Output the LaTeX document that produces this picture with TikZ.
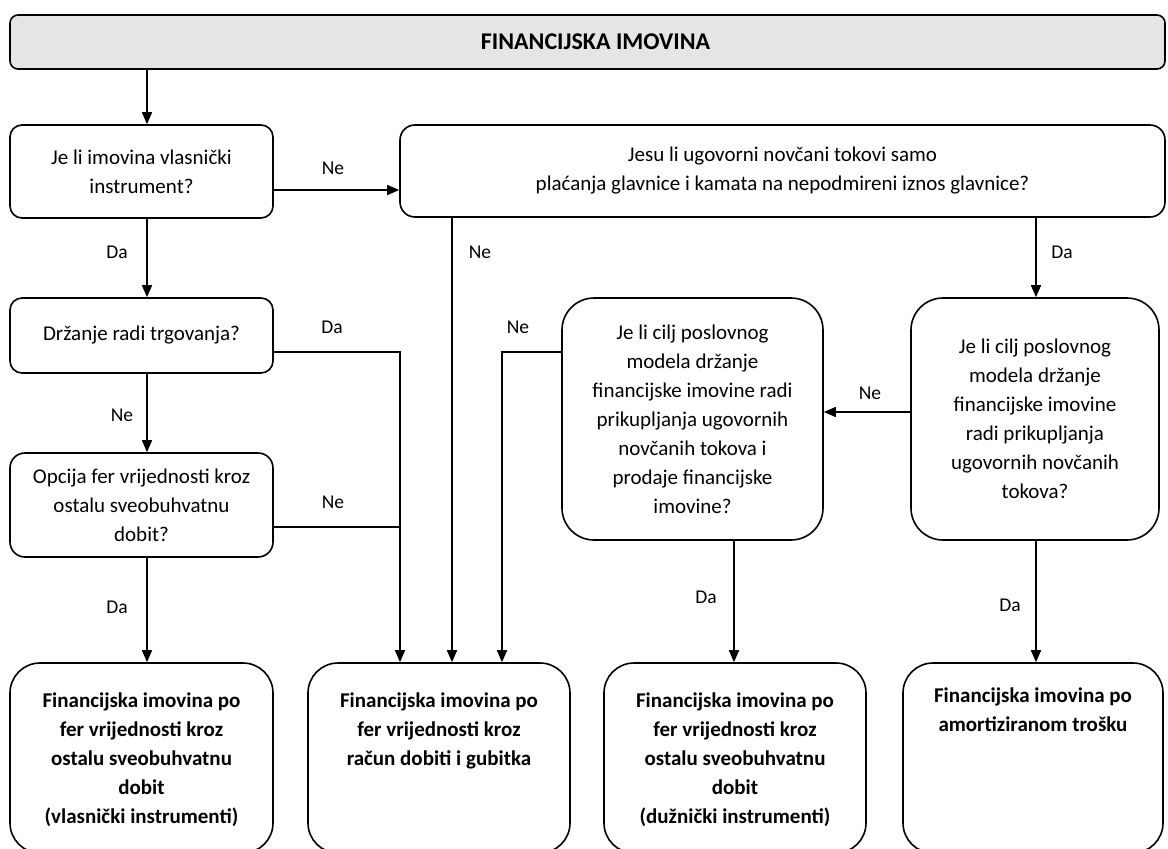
\documentclass[tikz,border=0pt]{standalone}
\usepackage{fontspec}
\setmainfont{Carlito}
\usetikzlibrary{arrows.meta}
\begin{document}
\begin{tikzpicture}[x=1pt,y=-1pt,line width=1.6pt,
  qbox/.style={draw, rounded corners=#1, align=center, inner sep=0pt,
    font=\fontsize{21}{29}\selectfont},
  qbox/.default=12pt,
  ebox/.style={draw, rounded corners=30pt, inner sep=0pt, minimum height=190pt},
  etext/.style={align=center, inner sep=0pt, font=\bfseries\fontsize{21}{29}\selectfont},
  lbl/.style={inner sep=0pt, font=\fontsize{19.5}{24}\selectfont},
  arr/.style={-{Triangle[width=10pt,length=12pt]}}]
\clip (0,0) rectangle (1168,849);
\fill[white] (0,0) rectangle (1168,849);

% title
\node[draw, fill=black!10, rounded corners=8pt, minimum width=1155pt, minimum height=54pt,
  inner sep=0pt] (T) at (587.5,42) {};
\node[inner sep=0pt, font=\bfseries\fontsize{24}{29}\selectfont] (Tt) at ([xshift=8pt]T.center) {FINANCIJSKA IMOVINA};

% questions
\node[qbox, minimum width=263pt, minimum height=93pt] (A) at (141.5,171.5)
  {Je li imovina vlasnički\\instrument?};
\node[qbox=15pt, minimum width=765pt, minimum height=92pt] (B) at (782.5,171)
  {Jesu li ugovorni novčani tokovi samo\\plaćanja glavnice i kamata na nepodmireni iznos glavnice?};
\node[qbox, minimum width=263pt, minimum height=75pt] (Dr) at (141.5,335.5)
  {Držanje radi trgovanja?};
\node[qbox=15pt, minimum width=263pt, minimum height=104pt] (Op) at (141.5,505)
  {Opcija fer vrijednosti kroz\\ostalu sveobuhvatnu\\dobit?};
\node[qbox=32pt, minimum width=261pt, minimum height=242pt] (C) at (692.5,419)
  {Je li cilj poslovnog\\modela držanje\\financijske imovine radi\\prikupljanja ugovornih\\novčanih tokova i\\prodaje financijske\\imovine?};
\node[qbox=32pt, minimum width=248pt, minimum height=242pt] (D) at (1035,419)
  {Je li cilj poslovnog\\modela držanje\\financijske imovine\\radi prikupljanja\\ugovornih novčanih\\tokova?};

% end boxes
\node[ebox, minimum width=263pt] (E1) at (141.5,758) {};
\node[ebox, minimum width=262pt] (E2) at (439,758) {};
\node[ebox, minimum width=262pt] (E3) at (735,758) {};
\node[ebox, minimum width=260pt] (E4) at (1033,758) {};
\node[etext, anchor=north] (E1t) at ([yshift=-30pt]E1.north)
  {Financijska imovina po\\fer vrijednosti kroz\\ostalu sveobuhvatnu\\dobit\\(vlasnički instrumenti)};
\node[etext, anchor=north] (E2t) at ([yshift=-30pt]E2.north)
  {Financijska imovina po\\fer vrijednosti kroz\\račun dobiti i gubitka};
\node[etext, anchor=north] (E3t) at ([yshift=-30pt]E3.north)
  {Financijska imovina po\\fer vrijednosti kroz\\ostalu sveobuhvatnu\\dobit\\(dužnički instrumenti)};
\node[etext, anchor=north] (E4t) at ([yshift=-25pt]E4.north)
  {Financijska imovina po\\amortiziranom trošku};

% helper coordinates
\coordinate (xl) at (147,0);
\coordinate (xm1) at (400,0);
\coordinate (xm2) at (452,0);
\coordinate (xm3) at (502,0);
\coordinate (xc) at (734,0);
\coordinate (xd) at (1036,0);
\coordinate (y1) at (0,190);
\coordinate (y2) at (0,352);
\coordinate (y3) at (0,527);
\coordinate (y4) at (0,412);

% connectors
\draw[arr] (T.south -| xl) -- (A.north -| xl);
\draw[arr] (A.east |- y1) -- (B.west |- y1);
\draw[arr] (A.south -| xl) -- (Dr.north -| xl);
\draw[arr] (Dr.south -| xl) -- (Op.north -| xl);
\draw[arr] (Op.south -| xl) -- (E1.north -| xl);
\draw[arr] (Dr.east |- y2) -| (E2.north -| xm1);
\draw (Op.east |- y3) -- (xm1 |- y3);
\draw[arr] (B.south -| xm2) -- (E2.north -| xm2);
\draw[arr] (C.west |- y2) -| (E2.north -| xm3);
\draw[arr] (B.south -| xd) -- (D.north -| xd);
\draw[arr] (D.west |- y4) -- (C.east |- y4);
\draw[arr] (C.south -| xc) -- (E3.north -| xc);
\draw[arr] (D.south -| xd) -- (E4.north -| xd);

% labels
\node[lbl] (l1) at (333,168) {Ne};
\node[lbl] (l2) at (117,252) {Da};
\node[lbl] (l3) at (480,252) {Ne};
\node[lbl] (l4) at (1062,252) {Da};
\node[lbl] (l5) at (332,327) {Da};
\node[lbl] (l6) at (518,327) {Ne};
\node[lbl] (l7) at (122,415) {Ne};
\node[lbl] (l8) at (870,393) {Ne};
\node[lbl] (l9) at (333,502) {Ne};
\node[lbl] (l10) at (706,597) {Da};
\node[lbl] (l11) at (1010,605) {Da};
\node[lbl] (l12) at (117,607) {Da};
\end{tikzpicture}
\end{document}
